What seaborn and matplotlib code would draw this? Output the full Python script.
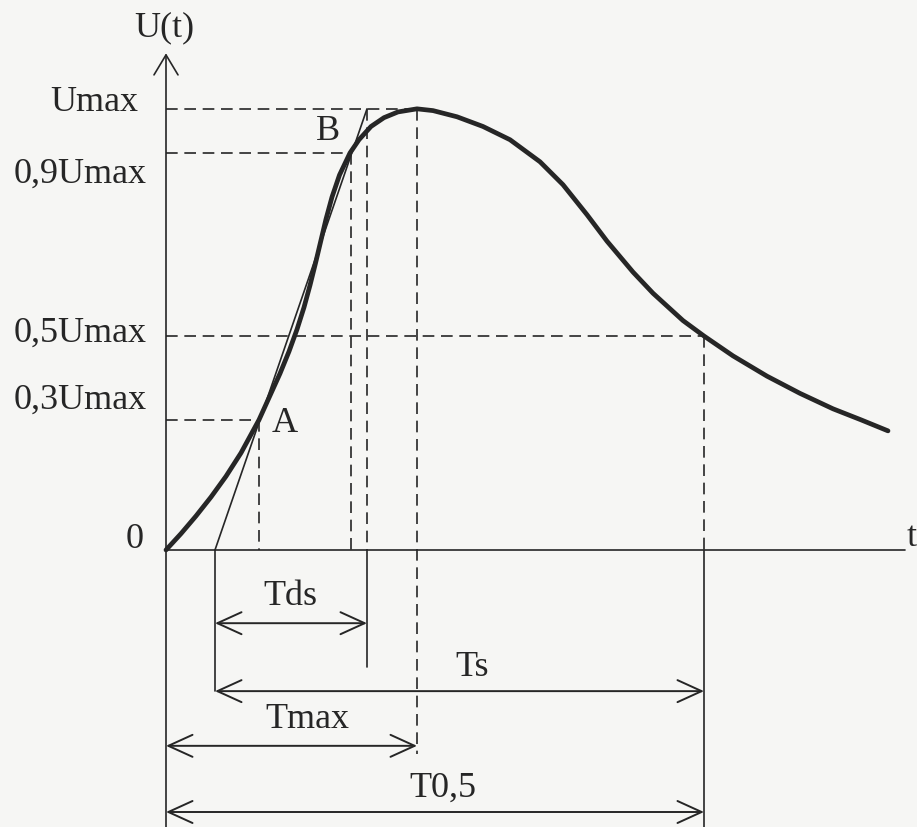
import matplotlib.pyplot as plt
import pandas as pd
import seaborn as sns

# impulse waveform (t in arbitrary units, U relative to Umax)
t_wave = [0.00, 0.30, 0.60, 0.90, 1.20, 1.50, 1.86,
          2.08, 2.28, 2.46, 2.62, 2.76, 2.88, 2.99, 3.095, 3.20, 3.32, 3.47, 3.68,
          3.86, 4.10, 4.36, 4.64, 5.02,
          5.34, 5.82, 6.34, 6.88, 7.48, 7.94, 8.42, 8.82, 9.34, 9.74, 10.34,
          10.76, 11.34, 12.02, 12.68, 13.34, 13.90, 14.44]
u_wave = [0.000, 0.037, 0.077, 0.120, 0.167, 0.220, 0.295,
          0.350, 0.400, 0.450, 0.500, 0.550, 0.600, 0.650, 0.700, 0.750, 0.800, 0.850, 0.900,
          0.930, 0.960, 0.980, 0.993, 1.000,
          0.996, 0.982, 0.960, 0.930, 0.880, 0.828, 0.760, 0.700, 0.630, 0.582, 0.520,
          0.485, 0.440, 0.394, 0.355, 0.320, 0.295, 0.270]

level_labels = ["Umax", "0,9Umax", "0,5Umax", "0,3Umax"]
levels = [1.0, 0.9, 0.485, 0.295]

t_start = 0.98   # tangent through A and B meets the t axis
t_a = 1.86
t_b = 3.70
t_top = 4.02     # tangent reaches Umax
t_max = 5.02
t_half = 10.76
t_axis_end = 14.78

spans = ["Tds", "Ts", "Tmax", "T0,5"]
span_start = [t_start, t_start, 0.0, 0.0]
span_end = [t_top, t_half, t_max, t_half]

# layout (below the t axis)
ROW_Y = [-0.166, -0.320, -0.444, -0.594]
LABEL_POS = [(2.48, -0.104), (6.12, -0.265), (2.82, -0.383), (5.54, -0.537)]
LEVEL_LABEL_Y = [1.016, 0.853, 0.494, 0.342]
LEVEL_LABEL_X = [-0.56, -0.38, -0.38, -0.38]
Y_BOTTOM, Y_TOP = -0.628, 1.249

INK = "#262626"
PAPER = "#f6f6f4"
FS = 26
THIN = 1.2
DASH = (0, (7, 4))

sns.set_theme(style="white")
plt.rcParams["font.family"] = ["Liberation Serif", "DejaVu Serif"]

fig = plt.figure(figsize=(9.17, 8.28), dpi=100, facecolor=PAPER)
ax = fig.add_axes([0, 0, 1, 1])
ax.set_facecolor(PAPER)
ax.set_xlim(-3.32, 15.02)
ax.set_ylim(Y_BOTTOM, Y_TOP)
ax.axis("off")

wave = pd.DataFrame({"t": t_wave, "U": u_wave})
sns.lineplot(data=wave, x="t", y="U", sort=False, color=INK, lw=3.4,
             solid_capstyle="round", solid_joinstyle="round", ax=ax)

# axes
ax.annotate("", xy=(0, 1.126), xytext=(0, Y_BOTTOM),
            arrowprops=dict(arrowstyle="->,head_length=1.2,head_width=0.72",
                            mutation_scale=12, lw=THIN, color=INK, shrinkA=0, shrinkB=0))
ax.plot([0, t_axis_end], [0, 0], color=INK, lw=THIN)

# tangent through A and B
ax.plot([t_start, t_top], [0, levels[0]], color=INK, lw=THIN)

# dashed helper lines
level_ends = [t_max, t_b, t_half, t_a]
for lv, te in zip(levels, level_ends):
    ax.plot([0, te], [lv, lv], color=INK, lw=THIN, ls=DASH)
ax.plot([t_a, t_a], [levels[3], 0], color=INK, lw=THIN, ls=DASH)
ax.plot([t_b, t_b], [levels[1], 0], color=INK, lw=THIN, ls=DASH)
ax.plot([t_top, t_top], [levels[0], 0], color=INK, lw=THIN, ls=DASH)
ax.plot([t_max, t_max], [levels[0], -0.463], color=INK, lw=THIN, ls=DASH)
ax.plot([t_half, t_half], [levels[2], 0], color=INK, lw=THIN, ls=DASH)

# solid extension lines
ax.plot([t_top, t_top], [0, -0.265], color=INK, lw=THIN)
ax.plot([t_start, t_start], [0, ROW_Y[1]], color=INK, lw=THIN)
ax.plot([t_half, t_half], [0, Y_BOTTOM], color=INK, lw=THIN)

# interval arrows
for name, a, b, y, (lx, ly) in zip(spans, span_start, span_end, ROW_Y, LABEL_POS):
    ax.annotate("", xy=(b, y), xytext=(a, y),
                arrowprops=dict(arrowstyle="<->,head_length=1.45,head_width=0.66",
                                mutation_scale=12, lw=THIN + 0.2, color=INK,
                                shrinkA=0, shrinkB=0))
    ax.text(lx, ly, name, fontsize=FS, color=INK, ha="center", va="center")

for lab, lx, ly in zip(level_labels, LEVEL_LABEL_X, LEVEL_LABEL_Y):
    ax.text(lx, ly, lab, fontsize=FS, color=INK, ha="right", va="center")

ax.text(-0.62, 0.025, "0", fontsize=FS, color=INK, ha="center", va="center")
ax.text(14.92, 0.03, "t", fontsize=FS, color=INK, ha="center", va="center")
ax.text(-0.04, 1.186, "U(t)", fontsize=FS, color=INK, ha="center", va="center")
ax.text(2.38, 0.29, "A", fontsize=FS, color=INK, ha="center", va="center")
ax.text(3.24, 0.95, "B", fontsize=FS, color=INK, ha="center", va="center")

fig.savefig("out.png", dpi=100, facecolor=PAPER)
